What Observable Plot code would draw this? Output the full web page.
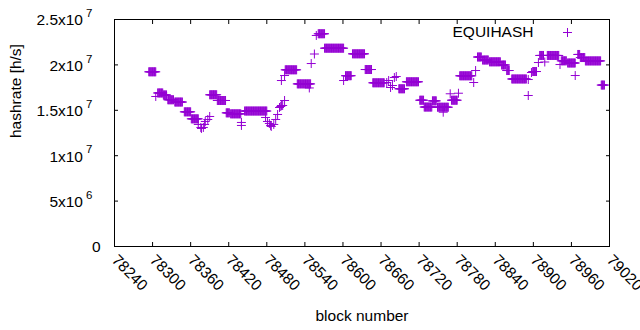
<!DOCTYPE html>
<html><head><meta charset="utf-8">
<script src="https://cdn.jsdelivr.net/npm/d3@7"></script>
<script src="https://cdn.jsdelivr.net/npm/@observablehq/plot@0.6"></script>
<style>html,body{margin:0;padding:0;background:#fff}svg{display:block}</style>
</head><body><div id="chart"></div>
<script>
// Runs of blocks where the hashrate stays constant (start block, end block, hashrate in H/s)
const runStart = [78294,78308,78317,78324,78335,78350,78361,78390,78402,78416,78423,78445,78509,78528,78561,78571,78604,78615,78635,78647,78688,78700,78721,78728,78741,78749,78771,78784,78812,78820,78831,78850,78858,78866,78899,78910,78922,78944,78954,78970,78974,78982,79007];
const runEnd   = [78305,78316,78322,78333,78347,78360,78372,78401,78415,78421,78439,78480,78527,78549,78571,78601,78613,78634,78645,78665,78697,78719,78727,78740,78747,78766,78780,78803,78818,78829,78848,78856,78862,78889,78905,78916,78940,78952,78966,78973,78981,79006,79012];
const runRate  = [19.24e6,16.91e6,16.69e6,16.16e6,15.91e6,14.83e6,14.06e6,16.71e6,16.08e6,14.72e6,14.61e6,14.92e6,19.46e6,17.91e6,23.43e6,21.84e6,18.81e6,21.22e6,19.49e6,18.03e6,17.37e6,18.14e6,16.11e6,15.36e6,16.04e6,15.34e6,16.11e6,18.80e6,20.87e6,20.54e6,20.34e6,19.99e6,19.38e6,18.45e6,19.27e6,21.04e6,21.04e6,20.45e6,20.21e6,21.15e6,20.81e6,20.44e6,17.78e6];
// Individual blocks
const singleBlock = [78305,78372,78376,78377,78380,78382,78383,78387,78390,78440,78440,78478,78481,78484,78486,78487,78491,78494,78497,78500,78502,78503,78505,78508,78503,78508,78547,78550,78555,78558,78601,78669,78672,78675,78678,78681,78684,78758,78769,78782,78806,78809,78892,78892,78897,78908,78918,78942,78966];
const singleRate  = [16.52e6,13.44e6,13.11e6,13.00e6,13.11e6,13.44e6,13.77e6,13.99e6,14.32e6,13.66e6,13.33e6,14.21e6,13.77e6,13.55e6,13.33e6,13.22e6,13.44e6,13.99e6,14.54e6,15.31e6,15.42e6,15.53e6,15.53e6,16.08e6,18.28e6,18.83e6,17.46e6,20.15e6,21.20e6,23.24e6,18.28e6,18.06e6,18.28e6,17.51e6,17.73e6,18.61e6,18.72e6,14.79e6,16.82e6,16.88e6,18.06e6,19.38e6,18.39e6,16.63e6,19.16e6,20.26e6,20.32e6,20.04e6,18.83e6];

const xTicks = [78240,78300,78360,78420,78480,78540,78600,78660,78720,78780,78840,78900,78960,79020];
const yTicks = [0,5e6,1e7,1.5e7,2e7,2.5e7];
const yTickMantissa = ["0","5x10","1x10","1.5x10","2x10","2.5x10"];
const yTickExponent = ["","6","7","7","7","7"];
const seriesName = "EQUIHASH";

const points = [];
runStart.forEach((s, i) => { for (let b = s; b <= runEnd[i]; b++) points.push({block: b, rate: runRate[i]}); });
singleBlock.forEach((b, i) => points.push({block: b, rate: singleRate[i]}));

const mant = new Map(yTicks.map((v, i) => [v, yTickMantissa[i]]));
const expo = new Map(yTicks.map((v, i) => [v, yTickExponent[i]]));
const yPow = yTicks.filter((v, i) => yTickExponent[i] !== "");
const yPlain = yTicks.filter((v, i) => yTickExponent[i] === "");
const color = "#9400d3";
const font = "'Liberation Sans', Arial, sans-serif";

const chart = Plot.plot({
  width: 640, height: 330,
  marginLeft: 114, marginRight: 31, marginTop: 19, marginBottom: 84,
  style: {fontFamily: font, fontSize: "15.5px", background: "#fff", color: "#000"},
  x: {domain: [78240, 79020]},
  y: {domain: [0, 2.5e7]},
  marks: [
    Plot.dot(points, {x: "block", y: "rate", symbol: "plus", r: 3, stroke: color, strokeWidth: 1}),
    Plot.frame({stroke: "#000", strokeWidth: 1}),
    Plot.axisX(xTicks, {anchor: "bottom", tickSize: -4, fill: null, label: null}),
    Plot.axisX(xTicks, {anchor: "top", tickSize: -4, fill: null, label: null}),
    Plot.axisY(yTicks, {anchor: "left", tickSize: -4, fill: null, label: null}),
    Plot.axisY(yTicks, {anchor: "right", tickSize: -4, fill: null, label: null}),
    Plot.axisX(xTicks, {anchor: "bottom", tickSize: 0, tickPadding: 11, tickRotate: 45, textAnchor: "start", dx: 0, label: null, tickFormat: d => String(d), fontSize: 15.5}),
    Plot.axisY(yPow, {anchor: "left", tickSize: 0, tickPadding: 31.5, textAnchor: "end", dy: 1, label: null, tickFormat: d => mant.get(d), fontSize: 15.5}),
    Plot.axisY(yPow, {anchor: "left", tickSize: 0, tickPadding: 28.5, textAnchor: "start", dx: 0, dy: -6, label: null, tickFormat: d => expo.get(d), fontSize: 11.5}),
    Plot.axisY(yPlain, {anchor: "left", tickSize: 0, tickPadding: 14, textAnchor: "end", dy: 1, label: null, tickFormat: d => mant.get(d), fontSize: 15.5}),
    Plot.text(["hashrate [h/s]"], {frameAnchor: "left", rotate: -90, dx: -98, dy: 5, fontSize: 15.5}),
    Plot.text(["block number"], {frameAnchor: "bottom", lineAnchor: "middle", dy: 70, fontSize: 15.5}),
    Plot.text([seriesName], {frameAnchor: "top-right", textAnchor: "end", lineAnchor: "middle", dx: -76, dy: 13, fontSize: 15.5}),
    Plot.dot([seriesName], {frameAnchor: "top-right", dx: -42, dy: 13, symbol: "plus", r: 3, stroke: color, strokeWidth: 1})
  ]
});
document.getElementById("chart").appendChild(chart);
</script>
</body></html>
